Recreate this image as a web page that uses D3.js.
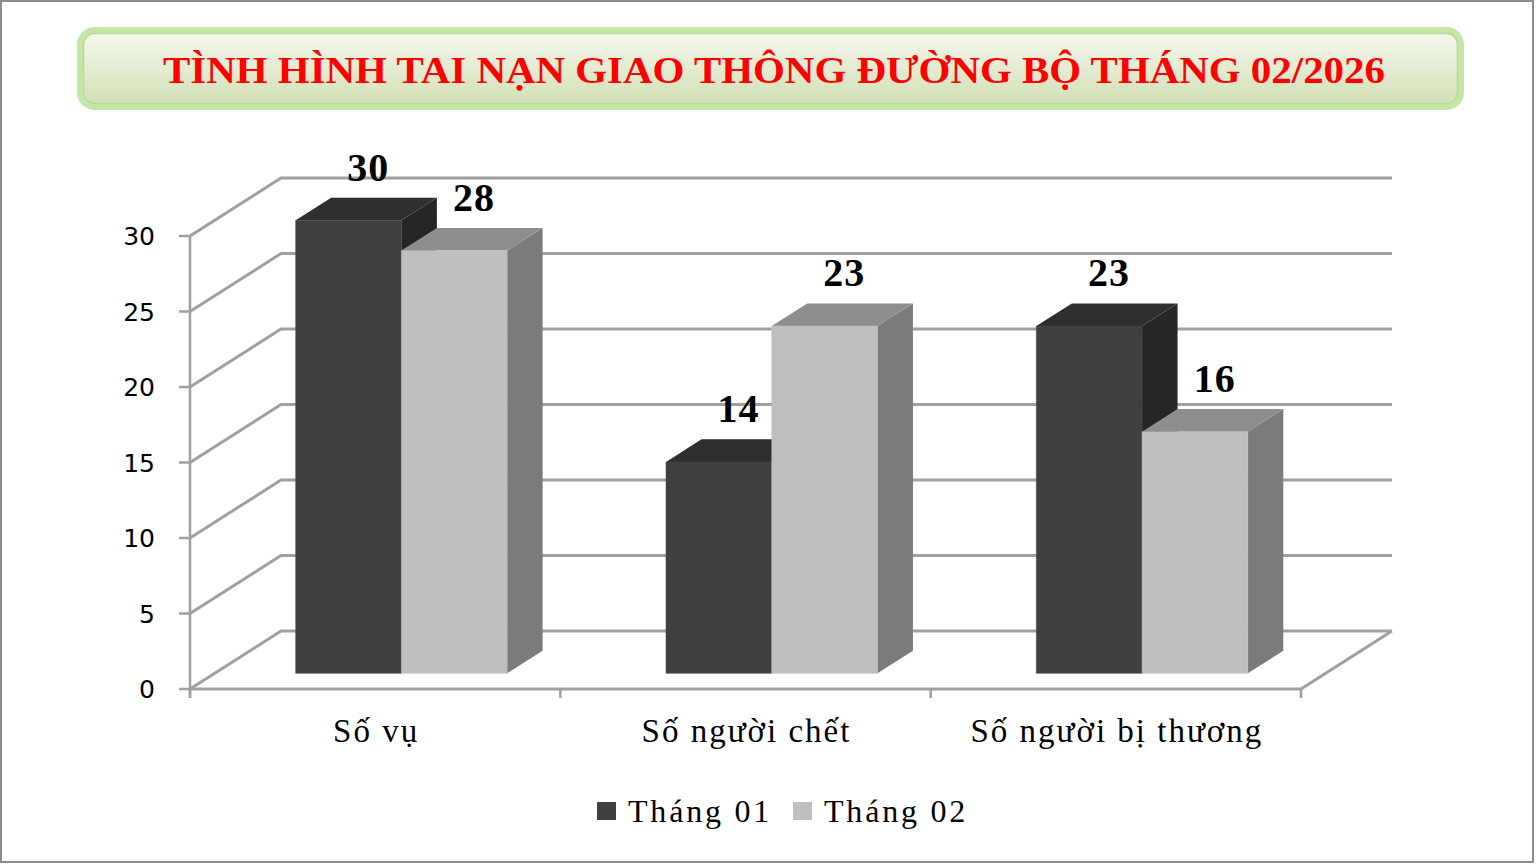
<!DOCTYPE html>
<html>
<head>
<meta charset="utf-8">
<title>Tình hình tai nạn giao thông đường bộ tháng 02/2026</title>
<script src="https://cdn.jsdelivr.net/npm/d3@7"></script>
<style>
    body { margin: 0; background: #fff; }
    svg { display: block; }
</style>
</head>
<body>
<div id="chartdiv"></div>
<script>
/*global d3 */

var titleText = "TÌNH HÌNH TAI NẠN GIAO THÔNG ĐƯỜNG BỘ THÁNG 02/2026",
    categories = ["Số vụ", "Số người chết", "Số người bị thương"],
    seriesNames = ["Tháng 01", "Tháng 02"],
    thang01 = [30, 14, 23],
    thang02 = [28, 23, 16],
    yTicks = [0, 5, 10, 15, 20, 25, 30];

var app = (function () {
    "use strict";

    var chart = {},      //svg references and geometry
        colors = {front: ["#404040", "#bfbfbf"],
                  top: ["#2f2f2f", "#8e8e8e"],
                  side: ["#262626", "#7b7b7b"],
                  grid: "#a0a0a0"};


    //project a point from the front plane back by depth fraction z
    function proj (x, y, z) {
        return [x + z * chart.depth.dx, y + z * chart.depth.dy];
    }


    function poly (pts) {
        return pts.map(function (p) { return p[0] + "," + p[1]; }).join(" ");
    }


    function appendFrame () {
        chart.svg.append("rect")
            .attr("x", 1).attr("y", 1)
            .attr("width", 1532).attr("height", 861)
            .attr("fill", "#fff")
            .attr("stroke", "#8c8c8c")
            .attr("stroke-width", 2);
    }


    function appendTitle () {
        var defs = chart.svg.append("defs"),
            grad = defs.append("linearGradient")
                .attr("id", "titlegrad")
                .attr("x1", 0).attr("y1", 0).attr("x2", 0).attr("y2", 1);
        grad.append("stop").attr("offset", "0%").attr("stop-color", "#f6f8f1");
        grad.append("stop").attr("offset", "100%").attr("stop-color", "#d1dfb2");
        chart.svg.append("rect")
            .attr("x", 80.5).attr("y", 30.5)
            .attr("width", 1380).attr("height", 76)
            .attr("rx", 14)
            .attr("fill", "url(#titlegrad)")
            .attr("stroke", "#c6e6a8")
            .attr("stroke-width", 7);
        chart.svg.append("rect")
            .attr("x", 83.5).attr("y", 33.5)
            .attr("width", 1374).attr("height", 70)
            .attr("rx", 11)
            .attr("fill", "none")
            .attr("stroke", "#b8dc94")
            .attr("stroke-width", 1.5);
        chart.svg.append("text")
            .attr("x", 774)
            .attr("y", 83)
            .attr("text-anchor", "middle")
            .attr("font-family", "'Liberation Serif', 'Times New Roman', serif")
            .attr("font-weight", "bold")
            .attr("font-size", 38)
            .attr("fill", "#ff0000")
            .attr("textLength", 1222)
            .attr("lengthAdjust", "spacingAndGlyphs")
            .text(titleText);
    }


    function appendWalls () {
        var g = chart.svg.append("g"),
            x0 = chart.x.range()[0],
            x1 = chart.x.range()[1],
            xr = x1 + chart.depth.dx;
        yTicks.forEach(function (t) {
            var f = [x0, chart.y(t)],
                b = proj(x0, chart.y(t), 1);
            g.append("polyline")
                .attr("points", poly([f, b, [xr, b[1]]]))
                .attr("fill", "none")
                .attr("stroke", colors.grid)
                .attr("stroke-width", 3); });
        //floor front and right edges
        g.append("polyline")
            .attr("points", poly([[x0, chart.y(0)], [x1, chart.y(0)],
                                  proj(x1, chart.y(0), 1)]))
            .attr("fill", "none")
            .attr("stroke", colors.grid)
            .attr("stroke-width", 3);
        //value axis
        g.append("line")
            .attr("x1", x0).attr("x2", x0)
            .attr("y1", chart.y(30)).attr("y2", chart.y(0) + 9)
            .attr("stroke", colors.grid)
            .attr("stroke-width", 2.5);
        g.selectAll(".ytick").data(yTicks).enter().append("line")
            .attr("x1", x0 - 11).attr("x2", x0)
            .attr("y1", function (d) { return chart.y(d); })
            .attr("y2", function (d) { return chart.y(d); })
            .attr("stroke", colors.grid)
            .attr("stroke-width", 2.5);
        g.selectAll(".ytl").data(yTicks).enter().append("text")
            .attr("x", 155)
            .attr("y", function (d) { return chart.y(d); })
            .attr("dy", "0.36em")
            .attr("text-anchor", "end")
            .attr("font-family", "'DejaVu Sans', Verdana, sans-serif")
            .attr("font-size", 25)
            .attr("fill", "#000")
            .text(function (d) { return d; });
        //category ticks at band edges
        g.selectAll(".xtick").data(d3.range(categories.length + 1))
            .enter().append("line")
            .attr("x1", function (i) { return x0 + i * chart.x.step(); })
            .attr("x2", function (i) { return x0 + i * chart.x.step(); })
            .attr("y1", chart.y(0)).attr("y2", chart.y(0) + 9)
            .attr("stroke", colors.grid)
            .attr("stroke-width", 2.5);
        g.selectAll(".xtl").data(categories).enter().append("text")
            .attr("x", function (d) { return chart.x(d) + chart.x.bandwidth() / 2 + 1; })
            .attr("y", 742)
            .attr("text-anchor", "middle")
            .attr("font-family", "'Liberation Serif', 'Times New Roman', serif")
            .attr("font-size", 33)
            .attr("letter-spacing", 2)
            .attr("fill", "#000")
            .text(function (d) { return d; });
    }


    function appendBar (g, cat, si, val) {
        var xl = chart.x(cat) + chart.xs(si),
            xr = xl + chart.xs.bandwidth(),
            yb = chart.y(0),
            yt = chart.y(val),
            z0 = chart.bar.z0,
            z1 = chart.bar.z1,
            fbl = proj(xl, yb, z0), fbr = proj(xr, yb, z0),
            ftl = proj(xl, yt, z0), ftr = proj(xr, yt, z0),
            btl = proj(xl, yt, z1), btr = proj(xr, yt, z1),
            bbr = proj(xr, yb, z1);
        g.append("polygon")
            .attr("points", poly([fbr, ftr, btr, bbr]))
            .attr("fill", colors.side[si]);
        g.append("polygon")
            .attr("points", poly([ftl, ftr, btr, btl]))
            .attr("fill", colors.top[si]);
        g.append("polygon")
            .attr("points", poly([fbl, fbr, ftr, ftl]))
            .attr("fill", colors.front[si])
            .attr("stroke", colors.front[si])
            .attr("stroke-width", 0.5);
        g.append("text")
            .attr("x", (ftl[0] + ftr[0]) / 2 + (btl[0] - ftl[0]) / 2 + 2)
            .attr("y", btl[1] - 17)
            .attr("text-anchor", "middle")
            .attr("font-family", "'Liberation Serif', 'Times New Roman', serif")
            .attr("font-weight", "bold")
            .attr("font-size", 40)
            .attr("letter-spacing", 1)
            .attr("fill", "#000")
            .text(val);
    }


    function appendBars () {
        var g = chart.svg.append("g"),
            series = [thang01, thang02];
        categories.forEach(function (cat, ci) {
            series.forEach(function (vals, si) {
                appendBar(g, cat, si, vals[ci]); }); });
    }


    function appendLegend () {
        var g = chart.svg.append("g"),
            xs = [597, 793];
        seriesNames.forEach(function (name, si) {
            g.append("rect")
                .attr("x", xs[si]).attr("y", 802)
                .attr("width", 19).attr("height", 18)
                .attr("fill", colors.front[si]);
            g.append("text")
                .attr("x", xs[si] + 31)
                .attr("y", 822)
                .attr("font-family", "'Liberation Serif', 'Times New Roman', serif")
                .attr("font-size", 32)
                .attr("letter-spacing", 2.8)
                .attr("fill", "#000")
                .text(name); });
    }


    function display () {
        chart.depth = {dx: 91, dy: -58};
        chart.bar = {z0: 0.27, z1: 0.66};
        chart.x = d3.scaleBand().domain(categories).range([190, 1301]);
        chart.xs = d3.scaleBand().domain([0, 1])
            .range([chart.x.bandwidth() * 0.219, chart.x.bandwidth() * 0.79]);
        chart.y = d3.scaleLinear().domain([0, 30]).range([689, 236]);
        chart.svg = d3.select("#chartdiv").append("svg")
            .attr("width", 1536).attr("height", 864);
        appendFrame();
        appendTitle();
        appendWalls();
        appendBars();
        appendLegend();
    }


    return {
        display: function () { display(); }
    };
}());

app.display();
</script>
</body>
</html>
